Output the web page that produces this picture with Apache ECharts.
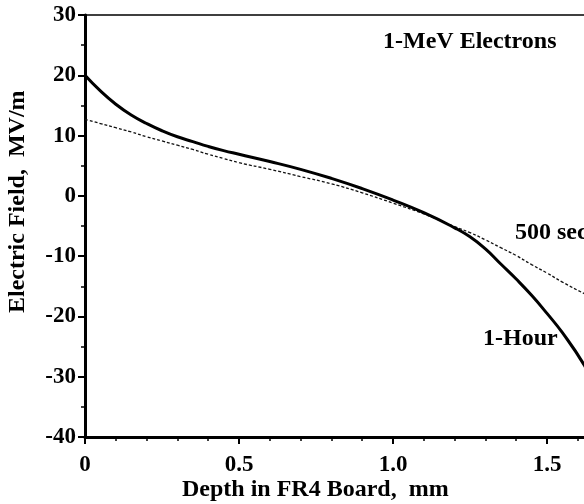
<!DOCTYPE html>
<html>
<head>
    <meta charset="utf-8">
    <title>Electric Field vs Depth</title>
    <script src="https://cdn.jsdelivr.net/npm/echarts@6/dist/echarts.min.js"></script>
    <style>
        html, body { margin: 0; padding: 0; background: #fff; }
        #chart1 { width: 584px; height: 504px; }
    </style>
</head>
<body>
<div id="chart1"></div>
<script>
    // depth in mm
    var depth = [0, 0.05, 0.1, 0.15, 0.2, 0.25, 0.3, 0.35, 0.4, 0.45, 0.5, 0.6, 0.7, 0.8, 0.9,
        1.0, 1.1, 1.2, 1.25, 1.3, 1.35, 1.4, 1.45, 1.5, 1.55, 1.62, 1.66];
    // 1-Hour curve (solid)
    var oneHour = [20.0, 17.4, 15.2, 13.4, 12.0, 10.8, 9.8, 9.0, 8.2, 7.5, 6.9, 5.7, 4.4, 2.9, 1.2,
        -0.7, -2.8, -5.3, -6.8, -8.8, -11.3, -13.8, -16.5, -19.5, -22.7, -28.0, -32.0];
    // 500 sec curve (dashed)
    var fiveHundredSec = [12.7, 12.0, 11.3, 10.6, 9.8, 9.1, 8.4, 7.7, 6.9, 6.2, 5.5, 4.4, 3.2, 2.0, 0.5,
        -1.2, -3.0, -5.1, -6.1, -7.3, -8.6, -9.9, -11.4, -12.8, -14.3, -16.2, -17.2];
    var xTickLabels = { '0': '0', '0.5': '0.5', '1': '1.0', '1.5': '1.5' };

    function pairs(xs, ys) {
        return xs.map(function (x, i) { return [x, ys[i]]; });
    }

    var font = 'Liberation Serif';
    var textFont = 'bold 24px "Liberation Serif"';
    var myChart = echarts.init(document.getElementById('chart1'));
    myChart.setOption({
        animation: false,
        // plot runs past the right edge of the picture (cropped figure)
        grid: { left: 85, top: 15, width: 616, height: 422, outerBoundsMode: 'none', containLabel: false },
        xAxis: [{
            type: 'value',
            min: 0, max: 2.0, interval: 0.5,
            axisLine: { onZero: false, lineStyle: { color: '#000', width: 3 } },
            axisTick: { inside: false, length: 7, lineStyle: { color: '#000', width: 2 } },
            minorTick: { show: true, splitNumber: 5, length: 4, lineStyle: { color: '#000', width: 1.5 } },
            splitLine: { show: false },
            axisLabel: {
                margin: 17, color: '#000', fontFamily: font, fontWeight: 'bold', fontSize: 23,
                formatter: function (v) { return xTickLabels[String(v)] || ''; }
            }
        }, {
            type: 'value', position: 'top',
            min: 0, max: 2.0,
            axisLine: { show: true, onZero: false, lineStyle: { color: '#000', width: 1.5 } },
            axisTick: { show: false }, axisLabel: { show: false }, splitLine: { show: false }
        }],
        yAxis: {
            type: 'value',
            min: -40, max: 30, interval: 10,
            axisLine: { show: true, onZero: false, lineStyle: { color: '#000', width: 3 } },
            axisTick: { show: true, length: 7, lineStyle: { color: '#000', width: 2 } },
            minorTick: { show: true, splitNumber: 2, length: 4, lineStyle: { color: '#000', width: 1.5 } },
            splitLine: { show: false },
            axisLabel: { margin: 9, color: '#000', fontFamily: font, fontWeight: 'bold', fontSize: 23 }
        },
        series: [{
            name: '500 sec',
            type: 'line',
            smooth: true,
            symbol: 'none',
            data: pairs(depth, fiveHundredSec),
            lineStyle: { color: '#111', width: 1.3, type: [3, 2] }
        }, {
            name: '1-Hour',
            type: 'line',
            smooth: true,
            symbol: 'none',
            data: pairs(depth, oneHour),
            lineStyle: { color: '#000', width: 3 }
        }],
        graphic: [{
            type: 'text', left: 383, top: 30,
            style: { text: '1-MeV Electrons', fill: '#000', font: textFont }
        }, {
            type: 'text', left: 515, top: 221,
            style: { text: '500 sec', fill: '#000', font: textFont }
        }, {
            type: 'text', left: 483, top: 327,
            style: { text: '1-Hour', fill: '#000', font: textFont }
        }, {
            type: 'text', left: 182, top: 478,
            style: { text: 'Depth in FR4 Board,  mm', fill: '#000', font: textFont }
        }, {
            type: 'text', x: 6, y: 313, rotation: Math.PI / 2,
            style: { text: 'Electric Field,  MV/m', fill: '#000', font: textFont }
        }]
    });
</script>
</body>
</html>
